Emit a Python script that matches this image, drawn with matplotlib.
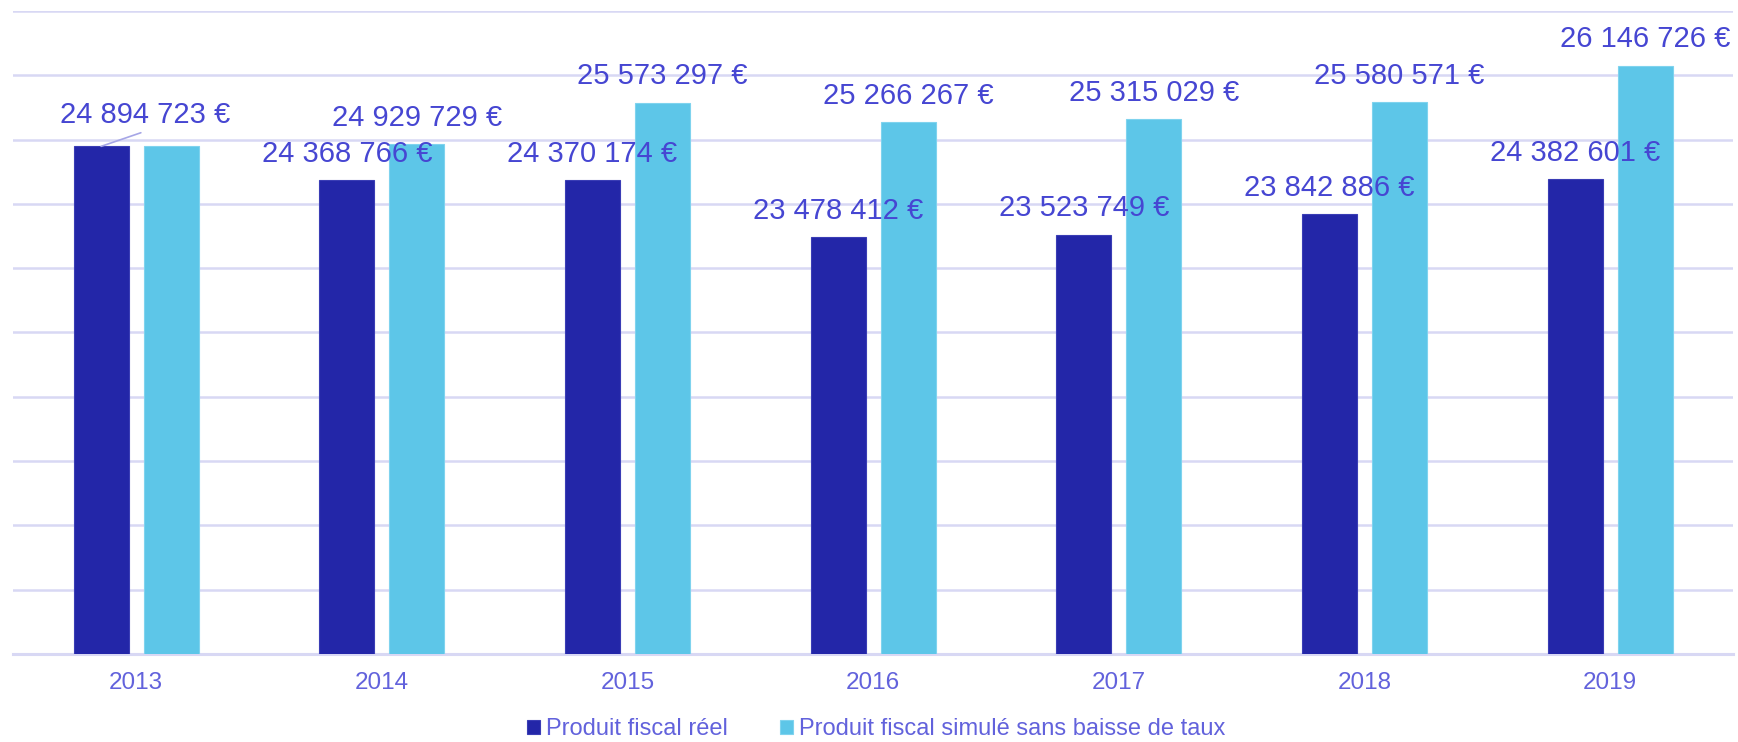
import numpy as np
import matplotlib
matplotlib.use("Agg")
import matplotlib.pyplot as plt

plt.rcParams["font.family"] = ["Liberation Sans", "DejaVu Sans"]

# données
annees = ["2013", "2014", "2015", "2016", "2017", "2018", "2019"]
produit_reel = [24894723, 24368766, 24370174, 23478412, 23523749, 23842886, 24382601]
produit_simule = [24894723, 24929729, 25573297, 25266267, 25315029, 25580571, 26146726]
noms_series = ["Produit fiscal réel", "Produit fiscal simulé sans baisse de taux"]

COULEUR_REEL = "#2326A8"
COULEUR_SIMULE = "#5DC6E8"
COULEUR_GRILLE = "#D8D8F4"
COULEUR_ETIQUETTE = "#4646D2"
COULEUR_AXE_TXT = "#6262DC"


def format_euro(v):
    return f"{v:,}".replace(",", " ") + " €"


fig = plt.figure(figsize=(17.38, 7.42), dpi=100)
ax = fig.add_axes([0.00765, 0.1186, 0.9895, 0.8666])

x = np.arange(len(annees))
largeur = 0.224
decalage = 0.1425

ax.bar(x - decalage, produit_reel, largeur, color=COULEUR_REEL,
       edgecolor="#3A3DB5", linewidth=0.8, label=noms_series[0], zorder=3)
ax.bar(x + decalage, produit_simule, largeur, color=COULEUR_SIMULE,
       edgecolor="#7FD3EE", linewidth=0.8, label=noms_series[1], zorder=3)

# axe y : 17 M -> 27 M, grille tous les 1 M, pas d'étiquettes
ax.set_ylim(17e6, 27e6)
ax.set_xlim(-0.5, len(annees) - 0.5)
ax.set_yticks(np.arange(17e6, 27e6 + 1, 1e6))
ax.yaxis.grid(True, color=COULEUR_GRILLE, linewidth=1.8, zorder=0)
ax.tick_params(axis="y", left=False, labelleft=False)
for s in ["top", "right", "left"]:
    ax.spines[s].set_visible(False)
ax.spines["bottom"].set_color(COULEUR_GRILLE)
ax.spines["bottom"].set_linewidth(2.2)

ax.set_xticks(x)
ax.set_xticklabels(annees, fontsize=17.5, color=COULEUR_AXE_TXT)
ax.tick_params(axis="x", length=0, pad=13)

# étiquettes de valeurs
taille_etiq = 21
for i, (xi, v) in enumerate(zip(x - decalage, produit_reel)):
    if i == 0:
        # étiquette déplacée avec trait de rappel
        ax.annotate("", xy=(xi, v), xytext=(28.6, 9.8), textcoords="offset points",
                    arrowprops=dict(arrowstyle="-", color="#A6A6E6", lw=1.2,
                                    shrinkA=0, shrinkB=0))
        ax.annotate(format_euro(v), xy=(xi, v), xytext=(31.6, 16.6),
                    textcoords="offset points", ha="center", va="baseline",
                    fontsize=taille_etiq, color=COULEUR_ETIQUETTE, zorder=5)
        continue
    ax.annotate(format_euro(v), xy=(xi, v), xytext=(0, 13.3),
                textcoords="offset points", ha="center", va="baseline",
                fontsize=taille_etiq, color=COULEUR_ETIQUETTE, zorder=5)

for i, (xi, v) in enumerate(zip(x + decalage, produit_simule)):
    if i == 0:
        continue
    ax.annotate(format_euro(v), xy=(xi, v), xytext=(0, 13.3),
                textcoords="offset points", ha="center", va="baseline",
                fontsize=taille_etiq, color=COULEUR_ETIQUETTE, zorder=5)

leg = fig.legend(loc="center", bbox_to_anchor=(0.504, 0.017), ncol=2, frameon=False,
                 fontsize=17, handlelength=0.55, handleheight=0.55,
                 handletextpad=0.25, columnspacing=2.2)
for t in leg.get_texts():
    t.set_color(COULEUR_AXE_TXT)

fig.savefig("out.png", dpi=100)
